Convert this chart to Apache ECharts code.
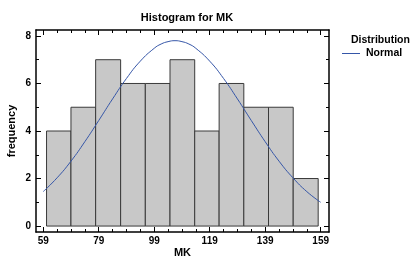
<!DOCTYPE html>
<html>
<head>
<meta charset="utf-8">
<script src="https://cdn.jsdelivr.net/npm/echarts@6/dist/echarts.min.js"></script>
<style>
html,body{margin:0;padding:0;background:#fff;}
#c{width:411px;height:261px;}
</style>
</head>
<body>
<div id="c"></div>
<script>
// ---- data ----
const binEdges = [60.2, 69.0, 77.9, 86.9, 95.8, 104.7, 113.6, 122.4, 131.3, 140.2, 149.1, 158.1];
const counts = [4, 5, 7, 6, 6, 7, 4, 6, 5, 5, 2];
const curveX = [59, 64, 69, 74, 79, 84, 89, 94, 99, 101.5, 104, 106.5, 109, 111.5, 114, 119, 124, 129, 134, 139, 144, 149, 154, 159];
const curveY = [1.45, 2.03, 2.73, 3.55, 4.44, 5.35, 6.21, 6.94, 7.48, 7.66, 7.76, 7.80, 7.76, 7.66, 7.48, 6.94, 6.21, 5.35, 4.44, 3.55, 2.73, 2.03, 1.45, 1.00];
const xMajor = [59, 79, 99, 119, 139, 159];
const xMinor = [64, 69, 74, 84, 89, 94, 104, 109, 114, 124, 129, 134, 144, 149, 154];
const yMajor = [0, 2, 4, 6, 8];
const yMinor = [1, 3, 5, 7];

const FONT = '"Liberation Sans", Arial, sans-serif';
const X_MIN = 56.4, X_MAX = 162, Y_MIN = -0.25, Y_MAX = 8.25;

const bins = counts.map((c, i) => [binEdges[i], binEdges[i + 1], c]);
const curve = curveX.map((x, i) => [x, curveY[i]]);

function xAx(pos, ticks, len, labels, line) {
  return {
    type: 'value', position: pos, min: X_MIN, max: X_MAX, offset: 0,
    splitLine: {show: false},
    axisLine: {show: line, onZero: false, lineStyle: {color: '#000', width: 1.5}},
    axisTick: {show: true, inside: true, length: len, customValues: ticks, lineStyle: {color: '#000', width: 1}},
    axisLabel: labels ? {customValues: ticks, color: '#000', fontFamily: FONT, fontWeight: 'bold', fontSize: 10, margin: 4} : {show: false}
  };
}
function yAx(pos, ticks, len, labels, line) {
  return {
    type: 'value', position: pos, min: Y_MIN, max: Y_MAX, offset: 0,
    splitLine: {show: false},
    axisLine: {show: line, onZero: false, lineStyle: {color: '#000', width: 1.5}},
    axisTick: {show: true, inside: true, length: len, customValues: ticks, lineStyle: {color: '#000', width: 1}},
    axisLabel: labels ? {customValues: ticks, color: '#000', fontFamily: FONT, fontWeight: 'bold', fontSize: 10, margin: 5} : {show: false}
  };
}

const xAxes = [
  xAx('bottom', xMajor, 5, true, true),
  xAx('bottom', xMinor, 3, false, false),
  xAx('top', xMajor, 5, false, true),
  xAx('top', xMinor, 3, false, false)
];
xAxes[0].name = 'MK';
xAxes[0].nameLocation = 'middle';
xAxes[0].nameGap = 15;
xAxes[0].nameMoveOverlap = false;
xAxes[0].nameTextStyle = {color: '#000', fontFamily: FONT, fontWeight: 'bold', fontSize: 11};

const yAxes = [
  yAx('left', yMajor, 5, true, true),
  yAx('left', yMinor, 3, false, false),
  yAx('right', yMajor, 5, false, true),
  yAx('right', yMinor, 3, false, false)
];
yAxes[0].name = 'frequency';
yAxes[0].nameLocation = 'middle';
yAxes[0].nameGap = 19;
yAxes[0].nameMoveOverlap = false;
yAxes[0].nameTextStyle = {color: '#000', fontFamily: FONT, fontWeight: 'bold', fontSize: 11};

const chart = echarts.init(document.getElementById('c'), null, {renderer: 'canvas'});
chart.setOption({
  animation: false,
  backgroundColor: '#fff',
  title: [
    {text: 'Histogram for MK', left: 182, top: 7, textAlign: 'center',
     textStyle: {color: '#000', fontFamily: FONT, fontWeight: 'bold', fontSize: 11}},
    {text: 'Distribution', left: 346, top: 30,
     textStyle: {color: '#000', fontFamily: FONT, fontWeight: 'bold', fontSize: 10.5}}
  ],
  legend: {
    data: ['Normal'], left: 337, top: 43, itemWidth: 18, itemHeight: 8, itemGap: 4,
    icon: 'path://M0,4 L18,4 L18,5 L0,5 Z',
    textStyle: {color: '#000', fontFamily: FONT, fontWeight: 'bold', fontSize: 10.5, padding: [0, 0, 0, 1]}
  },
  grid: {left: 36, right: 82, top: 30, bottom: 29, containLabel: false, outerBoundsMode: 'none'},
  xAxis: xAxes,
  yAxis: yAxes,
  series: [
    {
      type: 'custom', name: 'hist', xAxisIndex: 0, yAxisIndex: 0,
      data: bins,
      encode: {x: [0, 1], y: 2},
      renderItem: function (params, api) {
        const p0 = api.coord([api.value(0), api.value(2)]);
        const p1 = api.coord([api.value(1), 0]);
        return {
          type: 'rect',
          shape: {x: p0[0], y: p0[1], width: p1[0] - p0[0], height: p1[1] - p0[1]},
          style: {fill: '#c8c8c8', stroke: '#3a3a3a', lineWidth: 1}
        };
      },
      z: 1
    },
    {
      type: 'line', name: 'Normal', xAxisIndex: 0, yAxisIndex: 0,
      data: curve, smooth: true, showSymbol: false, symbol: 'none',
      lineStyle: {color: '#3556a8', width: 1},
      itemStyle: {color: '#3556a8'},
      z: 3
    }
  ]
});
</script>
</body>
</html>
